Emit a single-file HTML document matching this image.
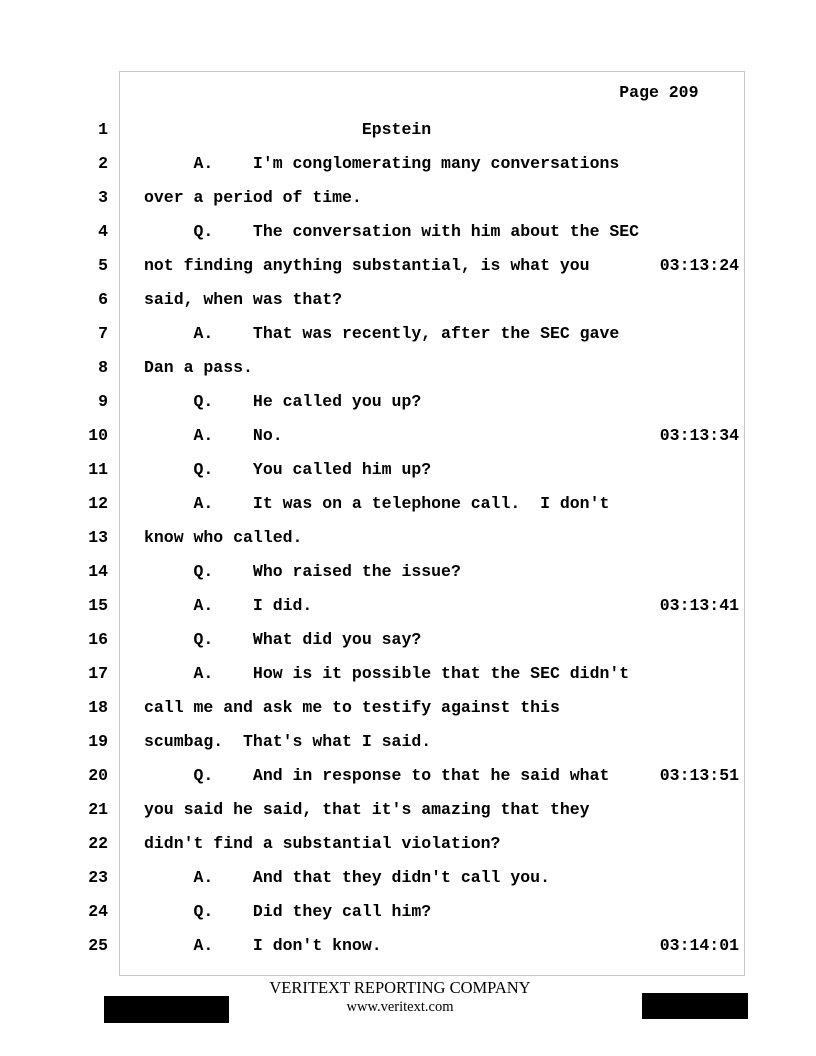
<!DOCTYPE html>
<html><head><style>
body{margin:0;width:816px;height:1056px;background:#fff;position:relative;overflow:hidden;font-family:"Liberation Mono",monospace;font-weight:bold;font-size:16.5px;color:#000}
.box{position:absolute;left:119px;top:71px;width:624px;height:903px;border:1px solid #c8c8c8}
.l{position:absolute;left:0;width:816px;height:34px;line-height:34px}
.n{position:absolute;right:708px;text-align:right}
.t{position:absolute;left:144px;white-space:pre}
.s{position:absolute;right:77px}
.f{position:absolute;width:816px;left:-8px;text-align:center;font-family:"Liberation Serif",serif;font-weight:normal}
.r{position:absolute;background:#000}
</style></head><body>
<div class="box"></div>
<div class="l" style="top:76px"><span class="t">                                                Page 209</span></div>
<div class="l" style="top:113px"><span class="n">1</span><span class="t">                      Epstein</span></div>
<div class="l" style="top:147px"><span class="n">2</span><span class="t">     A.    I'm conglomerating many conversations</span></div>
<div class="l" style="top:181px"><span class="n">3</span><span class="t">over a period of time.</span></div>
<div class="l" style="top:215px"><span class="n">4</span><span class="t">     Q.    The conversation with him about the SEC</span></div>
<div class="l" style="top:249px"><span class="n">5</span><span class="t">not finding anything substantial, is what you</span><span class="s">03:13:24</span></div>
<div class="l" style="top:283px"><span class="n">6</span><span class="t">said, when was that?</span></div>
<div class="l" style="top:317px"><span class="n">7</span><span class="t">     A.    That was recently, after the SEC gave</span></div>
<div class="l" style="top:351px"><span class="n">8</span><span class="t">Dan a pass.</span></div>
<div class="l" style="top:385px"><span class="n">9</span><span class="t">     Q.    He called you up?</span></div>
<div class="l" style="top:419px"><span class="n">10</span><span class="t">     A.    No.</span><span class="s">03:13:34</span></div>
<div class="l" style="top:453px"><span class="n">11</span><span class="t">     Q.    You called him up?</span></div>
<div class="l" style="top:487px"><span class="n">12</span><span class="t">     A.    It was on a telephone call.  I don't</span></div>
<div class="l" style="top:521px"><span class="n">13</span><span class="t">know who called.</span></div>
<div class="l" style="top:555px"><span class="n">14</span><span class="t">     Q.    Who raised the issue?</span></div>
<div class="l" style="top:589px"><span class="n">15</span><span class="t">     A.    I did.</span><span class="s">03:13:41</span></div>
<div class="l" style="top:623px"><span class="n">16</span><span class="t">     Q.    What did you say?</span></div>
<div class="l" style="top:657px"><span class="n">17</span><span class="t">     A.    How is it possible that the SEC didn't</span></div>
<div class="l" style="top:691px"><span class="n">18</span><span class="t">call me and ask me to testify against this</span></div>
<div class="l" style="top:725px"><span class="n">19</span><span class="t">scumbag.  That's what I said.</span></div>
<div class="l" style="top:759px"><span class="n">20</span><span class="t">     Q.    And in response to that he said what</span><span class="s">03:13:51</span></div>
<div class="l" style="top:793px"><span class="n">21</span><span class="t">you said he said, that it's amazing that they</span></div>
<div class="l" style="top:827px"><span class="n">22</span><span class="t">didn't find a substantial violation?</span></div>
<div class="l" style="top:861px"><span class="n">23</span><span class="t">     A.    And that they didn't call you.</span></div>
<div class="l" style="top:895px"><span class="n">24</span><span class="t">     Q.    Did they call him?</span></div>
<div class="l" style="top:929px"><span class="n">25</span><span class="t">     A.    I don't know.</span><span class="s">03:14:01</span></div>
<div class="f" style="top:978px;font-size:16.5px">VERITEXT REPORTING COMPANY</div>
<div class="f" style="top:999px;font-size:14.5px">www.veritext.com</div>
<div class="r" style="left:104px;top:996px;width:125px;height:27px"></div>
<div class="r" style="left:642px;top:993px;width:106px;height:26px"></div>
</body></html>
